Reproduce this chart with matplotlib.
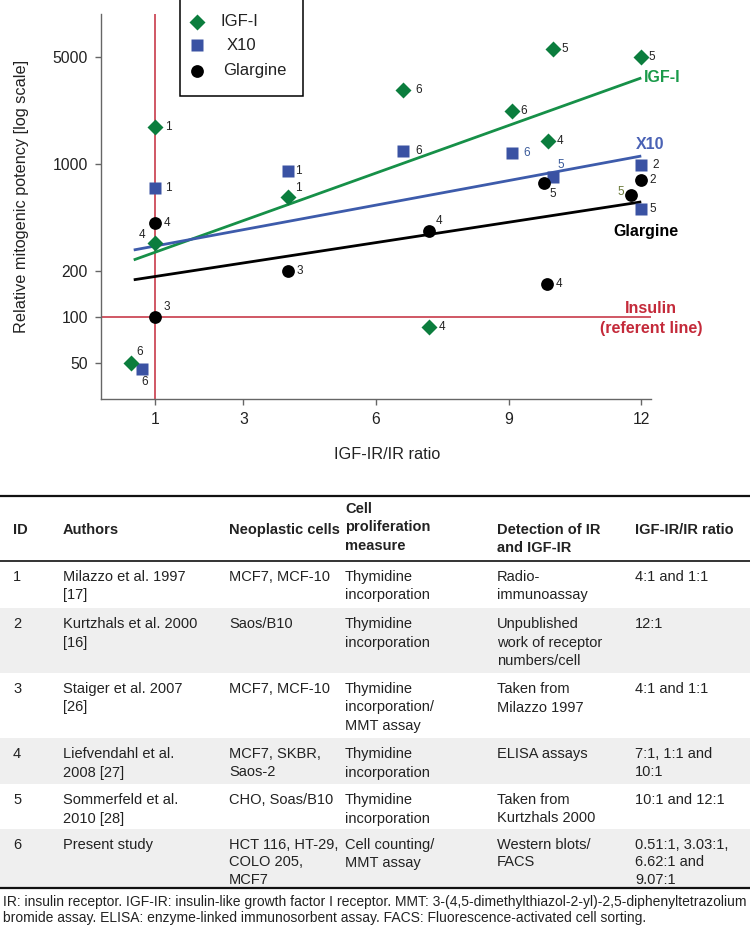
import matplotlib
matplotlib.use("Agg")
from matplotlib import pyplot as plt
from matplotlib.lines import Line2D
from matplotlib.patches import Rectangle

plt.rcParams['font.family'] = ['Liberation Sans', 'DejaVu Sans']

# ---- chart data ----
igf_x = [1, 4, 1, 0.45, 6.62, 9.07, 10, 12, 9.9, 7.2]
igf_y = [1745, 608, 305, 50, 3050, 2220, 5650, 5000, 1413, 86]
igf_ids = ['1', '1', '4', '6', '6', '6', '5', '5', '4', '4']

x10_x = [1, 4, 0.7, 6.62, 9.07, 10, 12, 12]
x10_y = [697, 900, 46, 1216, 1180, 822, 985, 508]
x10_ids = ['1', '1', '6', '6', '6', '5', '2', '5']

gla_x = [1, 1, 4, 7.2, 9.87, 9.8, 12, 11.77]
gla_y = [411, 100, 200, 365, 165, 752, 786, 627]
gla_ids = ['4', '3', '3', '4', '4', '5', '2', '5']

fit_x = [0.52, 12]
igf_fit = [236, 3650]
x10_fit = [274, 1127]
gla_fit = [175, 565]

x_ticks = [1, 3, 6, 9, 12]
y_ticks = [50, 100, 200, 1000, 5000]
legend_labels = ['IGF-I', 'X10', 'Glargine']

# ---- table data ----
headers = ['ID', 'Authors', 'Neoplastic cells', 'Cell\nproliferation\nmeasure',
           'Detection of IR\nand IGF-IR', 'IGF-IR/IR ratio']
ids = ['1', '2', '3', '4', '5', '6']
authors = ['Milazzo et al. 1997\n[17]', 'Kurtzhals et al. 2000\n[16]',
           'Staiger et al. 2007\n[26]', 'Liefvendahl et al.\n2008 [27]',
           'Sommerfeld et al.\n2010 [28]', 'Present study']
cells = ['MCF7, MCF-10', 'Saos/B10', 'MCF7, MCF-10', 'MCF7, SKBR,\nSaos-2',
         'CHO, Soas/B10', 'HCT 116, HT-29,\nCOLO 205,\nMCF7']
measures = ['Thymidine\nincorporation', 'Thymidine\nincorporation',
            'Thymidine\nincorporation/\nMMT assay', 'Thymidine\nincorporation',
            'Thymidine\nincorporation', 'Cell counting/\nMMT assay']
detection = ['Radio-\nimmunoassay', 'Unpublished\nwork of receptor\nnumbers/cell',
             'Taken from\nMilazzo 1997', 'ELISA assays', 'Taken from\nKurtzhals 2000',
             'Western blots/\nFACS']
ratios = ['4:1 and 1:1', '12:1', '4:1 and 1:1', '7:1, 1:1 and\n10:1',
          '10:1 and 12:1', '0.51:1, 3.03:1,\n6.62:1 and\n9.07:1']
footnote = ["IR: insulin receptor. IGF-IR: insulin-like growth factor I receptor. MMT: "
            "3-(4,5-dimethylthiazol-2-yl)-2,5-diphenyltetrazolium",
            "bromide assay. ELISA: enzyme-linked immunosorbent assay. FACS: "
            "Fluorescence-activated cell sorting."]

# ---- styles ----
W, H = 750, 935
green = '#0b7d3d'
blue = '#3a52a3'
red = '#c42a3a'
txt = '#222222'

# label offsets in pixels (dx, dy up) and colours per point
igf_off = [(13, 0), (11, 9), (-13, 8), (9, 11), (15, 0), (12, 0), (12, 0), (11, 0), (12, 0), (13, 0)]
x10_off = [(13, 0), (11, 0), (3, -13), (15, 0), (15, 0), (8, 12), (14, 0), (12, 0)]
gla_off = [(12, 0), (12, 10), (12, 0), (10, 10), (12, 0), (9, -11), (11, 0), (-10, 3)]
x10_lab_col = [txt, txt, txt, txt, '#3a5a9a', '#3a5a9a', txt, txt]
gla_lab_col = [txt] * 7 + ['#6b7a3a']


def fx(x):
    return x / W


def fy(y):
    return 1 - y / H


fig = plt.figure(figsize=(7.5, 9.35), dpi=100)
ax = fig.add_axes([fx(101), fy(399), 550 / W, 385 / H])
ax.set_yscale('log')
ax.set_xlim(-0.22, 12.22)
ax.set_ylim(29.1, 9550)

ax.axvline(1, color=red, lw=1.1, zorder=1)
ax.axhline(100, color=red, lw=1.1, zorder=1)

ax.plot(fit_x, igf_fit, color='#169048', lw=2, zorder=2, solid_capstyle='butt')
ax.plot(fit_x, x10_fit, color='#3d5bab', lw=2, zorder=2, solid_capstyle='butt')
ax.plot(fit_x, gla_fit, color='black', lw=2, zorder=2, solid_capstyle='butt')

ax.plot(igf_x, igf_y, 'D', color=green, ms=8.6, mec='none', zorder=4)
ax.plot(x10_x, x10_y, 's', color=blue, ms=9, mec='none', zorder=3)
ax.plot(gla_x, gla_y, 'o', color='black', ms=9.2, mec='none', zorder=5)

for xs, ys, labs, offs, cols in [
        (igf_x, igf_y, igf_ids, igf_off, [txt] * len(igf_ids)),
        (x10_x, x10_y, x10_ids, x10_off, x10_lab_col),
        (gla_x, gla_y, gla_ids, gla_off, gla_lab_col)]:
    for x, y, s, (dx, dy), c in zip(xs, ys, labs, offs, cols):
        ax.annotate(s, (x, y), xytext=(dx * 0.72, dy * 0.72), textcoords='offset points',
                    ha='center', va='center', fontsize=8.5, color=c, zorder=6)

ax.text(12.07, igf_fit[1], 'IGF-I', color='#1a9a4a', fontsize=11.5, fontweight='bold',
        ha='left', va='center', clip_on=False)
ax.annotate('X10', (12.2, x10_fit[1]), xytext=(0, 8), textcoords='offset points',
            color='#4a62b5', fontsize=11.5, fontweight='bold', ha='center', va='center',
            annotation_clip=False)
ax.annotate('Glargine', (12.1, gla_fit[1]), xytext=(0, -21.5), textcoords='offset points',
            color='black', fontsize=11.5, fontweight='bold', ha='center', va='center',
            annotation_clip=False)
ax.annotate('Insulin', (12.22, 100), xytext=(0, 6), textcoords='offset points',
            color=red, fontsize=11.5, fontweight='bold', ha='center', va='center',
            annotation_clip=False)
ax.annotate('(referent line)', (12.22, 100), xytext=(0, -8), textcoords='offset points',
            color=red, fontsize=11.5, fontweight='bold', ha='center', va='center',
            annotation_clip=False)

for side in ['top', 'right']:
    ax.spines[side].set_visible(False)
for side in ['left', 'bottom']:
    ax.spines[side].set_color('#666666')
    ax.spines[side].set_linewidth(1)
ax.set_xticks(x_ticks)
ax.set_xticklabels([str(t) for t in x_ticks])
ax.set_yticks(y_ticks)
ax.set_yticklabels([str(t) for t in y_ticks])
ax.minorticks_off()
ax.tick_params(direction='out', length=4.5, width=1, color='#666666',
               labelsize=11.3, labelcolor=txt, pad=5)

fig.text(fx(387), fy(455), 'IGF-IR/IR ratio', fontsize=11.7, color=txt, ha='center', va='center')
fig.text(fx(22), fy(196), 'Relative mitogenic potency [log scale]', fontsize=11.7,
         color=txt, ha='center', va='center', rotation=90)

# legend box, drawn by hand to match the uneven padding of the original
fig.add_artist(Rectangle((fx(180), fy(96)), 123 / W, 98 / H, transform=fig.transFigure,
                         facecolor='white', edgecolor='black', lw=1.1, zorder=7))
leg_marks = [('D', green, 8.6), ('s', blue, 9), ('o', 'black', 9.2)]
leg_rows = [22, 45, 71]
leg_text_x = [220, 227, 223]
for (m, c, ms), ry, tx, lab in zip(leg_marks, leg_rows, leg_text_x, legend_labels):
    fig.add_artist(Line2D([fx(197)], [fy(ry)], ls='none', marker=m, color=c, ms=ms,
                          mec='none', transform=fig.transFigure, zorder=8))
    fig.text(fx(tx), fy(ry), lab, fontsize=12, color=txt, ha='left', va='center', zorder=8)

# ---- table ----
col_x = [13, 63, 229, 345, 497, 635]
header_y = [530, 530, 530, 509, 530, 530]
row_edges = [561, 608, 673, 738, 784, 829, 888]
line_step = 18.5


def hline(y, lw):
    fig.add_artist(Line2D([0, 1], [fy(y), fy(y)], color='#111111', lw=lw,
                          transform=fig.transFigure))


for i in range(len(ids)):
    if i % 2 == 1:
        top, bot = row_edges[i], row_edges[i + 1]
        fig.add_artist(Rectangle((0, fy(bot)), 1, (bot - top) / H, color='#efefef',
                                 transform=fig.transFigure, zorder=0, lw=0))

hline(496, 1.6)
hline(561, 1.2)
hline(888, 1.6)

for cx, hy, head in zip(col_x, header_y, headers):
    for k, line in enumerate(head.split('\n')):
        fig.text(fx(cx), fy(hy + k * line_step), line, fontsize=10.5, fontweight='bold',
                 color=txt, ha='left', va='center')

rows = list(zip(ids, authors, cells, measures, detection, ratios))
for i, row in enumerate(rows):
    y0 = row_edges[i] + 16
    step = 17.5 if i == len(rows) - 1 else line_step
    for cx, cell in zip(col_x, row):
        for k, line in enumerate(cell.split('\n')):
            fig.text(fx(cx), fy(y0 + k * step), line, fontsize=10.5,
                     color=txt, ha='left', va='center')

for k, line in enumerate(footnote):
    fig.text(fx(3), fy(902 + k * 16), line, fontsize=10, color=txt, ha='left', va='center')

fig.savefig('out.png', dpi=100)
